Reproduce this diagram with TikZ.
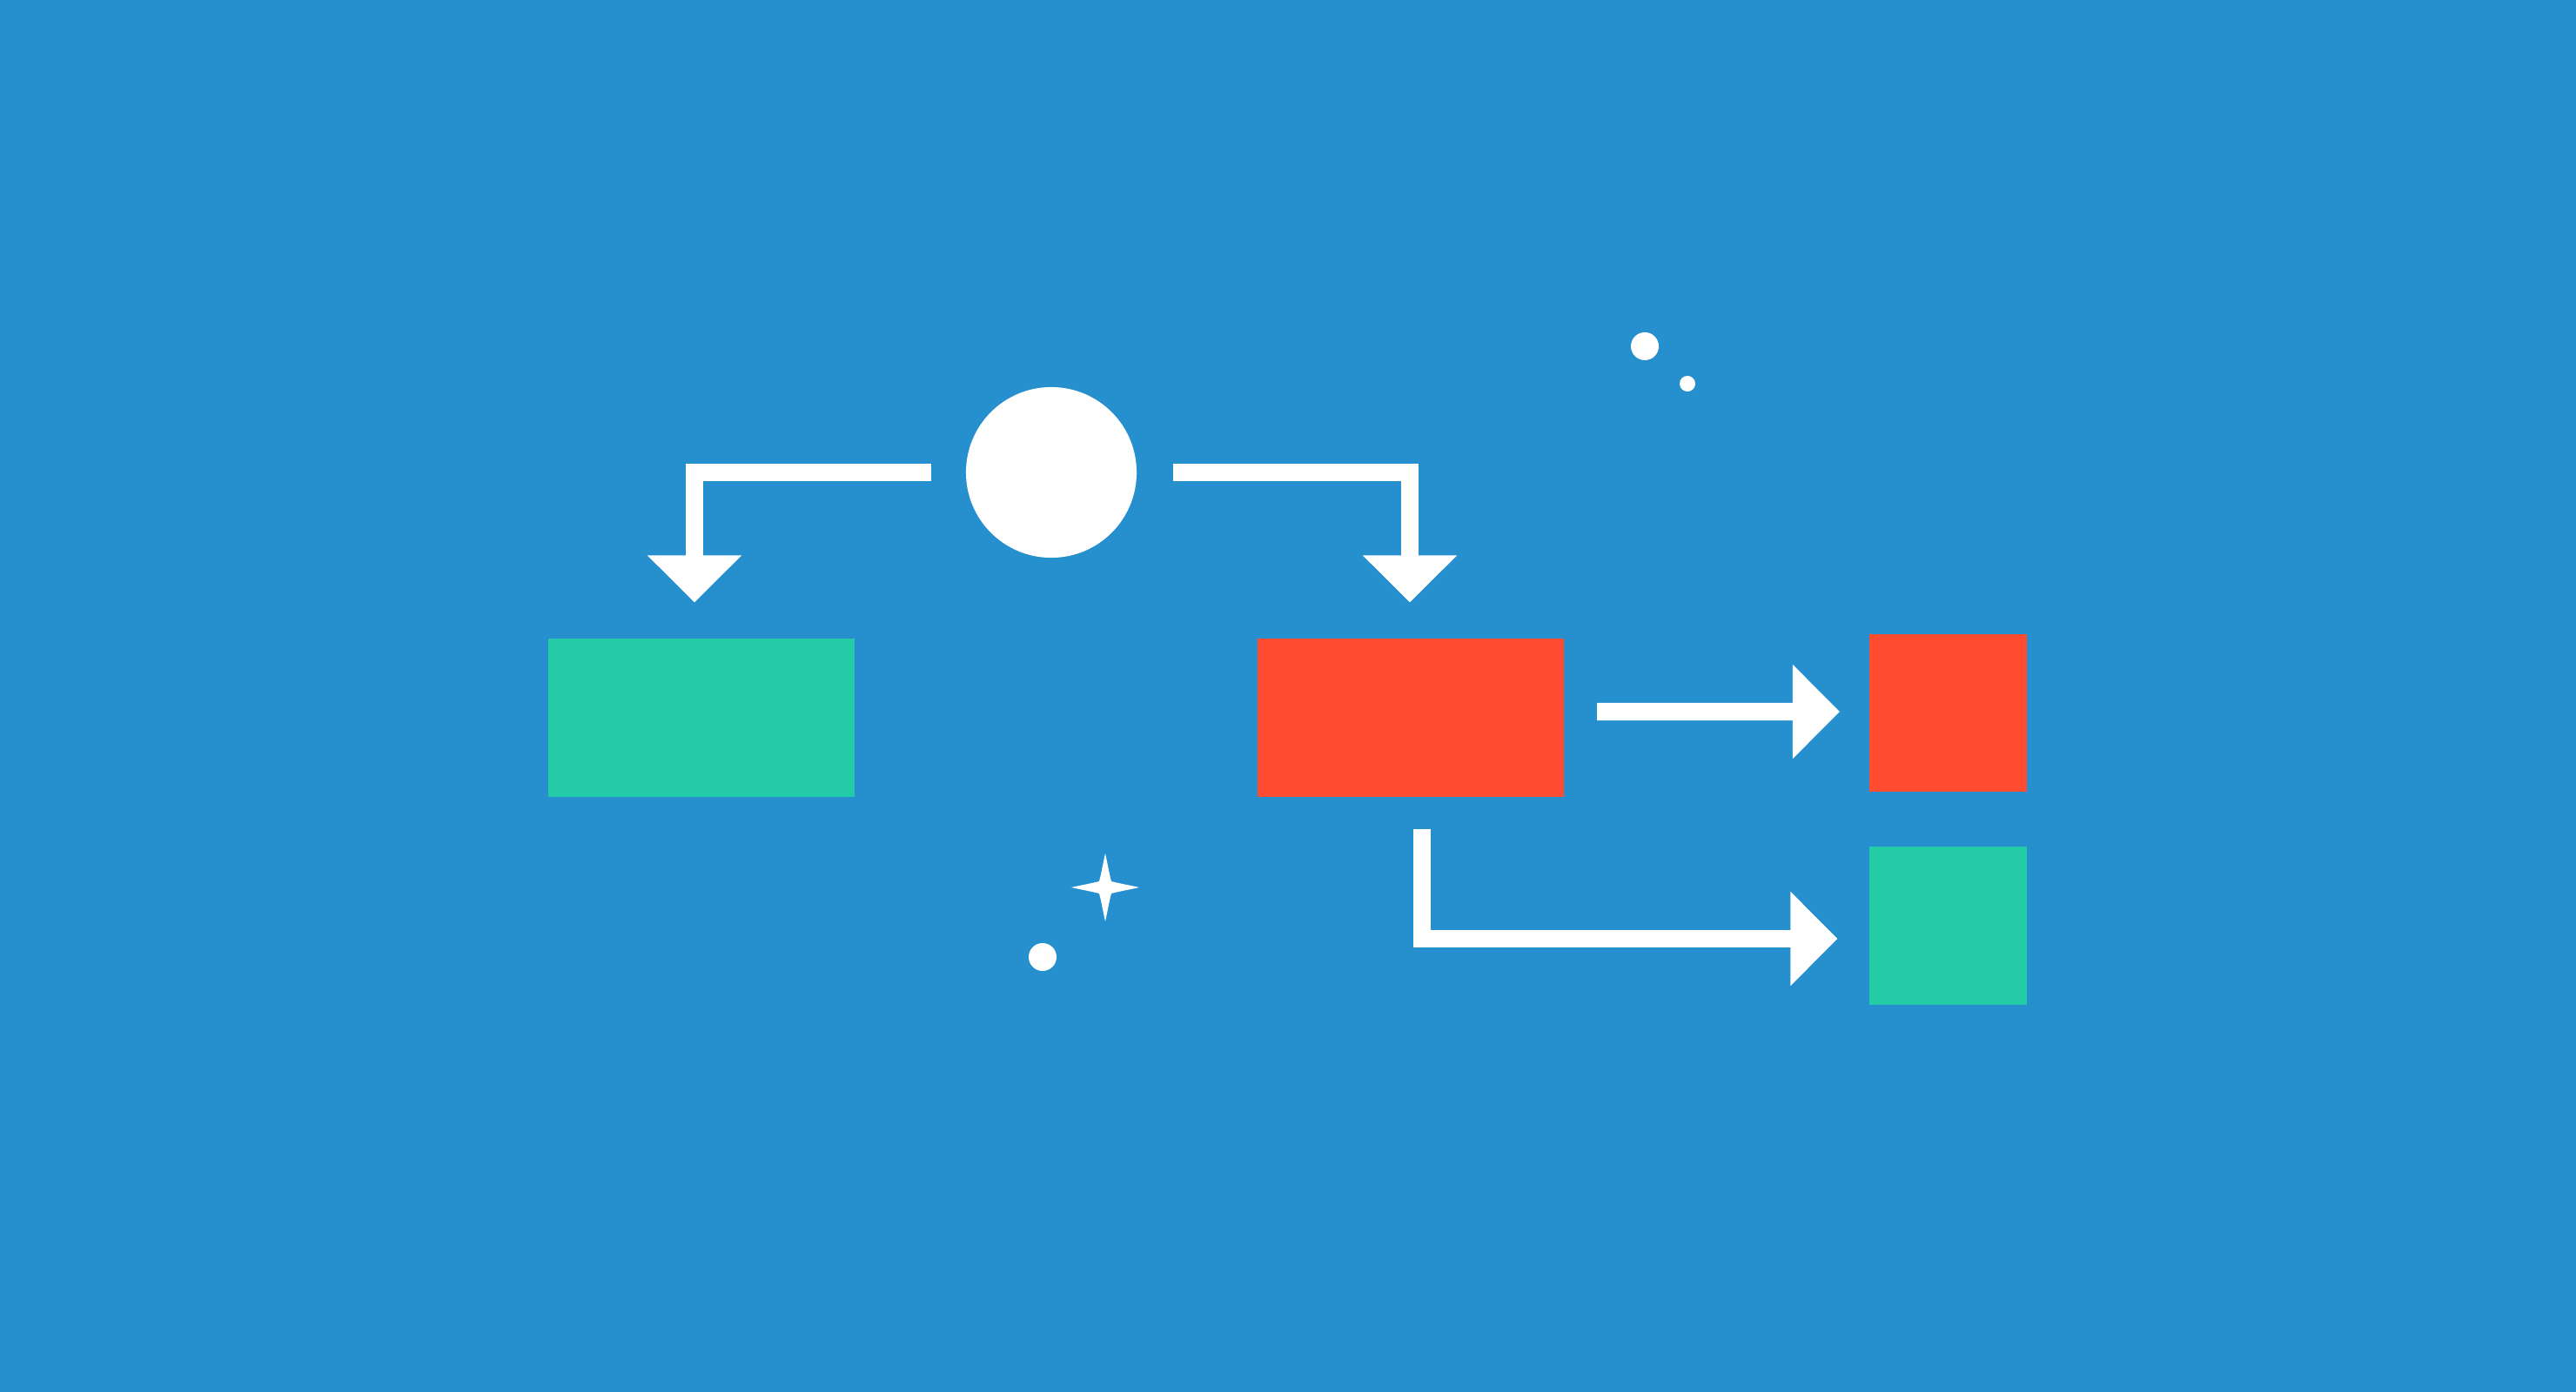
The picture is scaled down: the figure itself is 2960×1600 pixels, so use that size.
\documentclass[tikz,border=0pt]{standalone}
\usetikzlibrary{arrows.meta}
\definecolor{bgblue}{RGB}{38,143,206}
\definecolor{boxgreen}{RGB}{35,204,167}
\definecolor{boxred}{RGB}{255,75,47}
\begin{document}
\begin{tikzpicture}[x=0.01cm,y=-0.01cm,
  box/.style={rectangle,draw=none,inner sep=0pt,outer sep=0pt},
  conn/.style={draw=white,line width=0.2cm,miter limit=10,
    -{Triangle[length=0.54cm,width=1.05cm,fill=white]}},
  dot/.style={fill=white,draw=none}]
\fill[bgblue] (0,0) rectangle (2960,1600);
\useasboundingbox (0,0) rectangle (2960,1600);
% nodes
\node[circle,fill=white,inner sep=0pt,outer sep=0pt,minimum size=1.96cm] (circ) at (1208,543) {};
\node[box,fill=boxgreen,minimum width=3.51cm,minimum height=1.81cm] (green) at (806,825) {};
\node[box,fill=boxred,minimum width=3.52cm,minimum height=1.81cm] (red) at (1621,825) {};
\node[box,fill=boxred,minimum width=1.81cm,minimum height=1.80cm] (redsmall) at (2238.5,819.5) {};
\node[box,fill=boxgreen,minimum width=1.81cm,minimum height=1.81cm] (greensmall) at (2238.5,1064) {};
% connectors
\draw[conn] ([xshift=-0.40cm]circ.west) -| ([shift={(-0.08cm,0.42cm)}]green.north);
\draw[conn] ([xshift=0.42cm]circ.east) -| ([shift={(-0.01cm,0.42cm)}]red.north);
\draw[conn] ([shift={(0.38cm,0.07cm)}]red.east) -- ([shift={(-0.34cm,0.015cm)}]redsmall.west);
\draw[conn] ([shift={(0.13cm,-0.37cm)}]red.south) |- ([shift={(-0.365cm,-0.15cm)}]greensmall.west);
% decorations
\fill[dot] (1890,398) circle[radius=0.16cm];
\fill[dot] (1939,441) circle[radius=0.09cm];
\fill[dot] (1198,1100) circle[radius=0.16cm];
\begin{scope}[shift={(1270,1020)}]
\fill[dot] (0,-39) .. controls (2.5,-28) and (5,-14) .. (7,-7)
  .. controls (14,-5) and (28,-2.5) .. (39,0)
  .. controls (28,2.5) and (14,5) .. (7,7)
  .. controls (5,14) and (2.5,28) .. (0,39)
  .. controls (-2.5,28) and (-5,14) .. (-7,7)
  .. controls (-14,5) and (-28,2.5) .. (-39,0)
  .. controls (-28,-2.5) and (-14,-5) .. (-7,-7)
  .. controls (-5,-14) and (-2.5,-28) .. cycle;
\end{scope}
\end{tikzpicture}
\end{document}
